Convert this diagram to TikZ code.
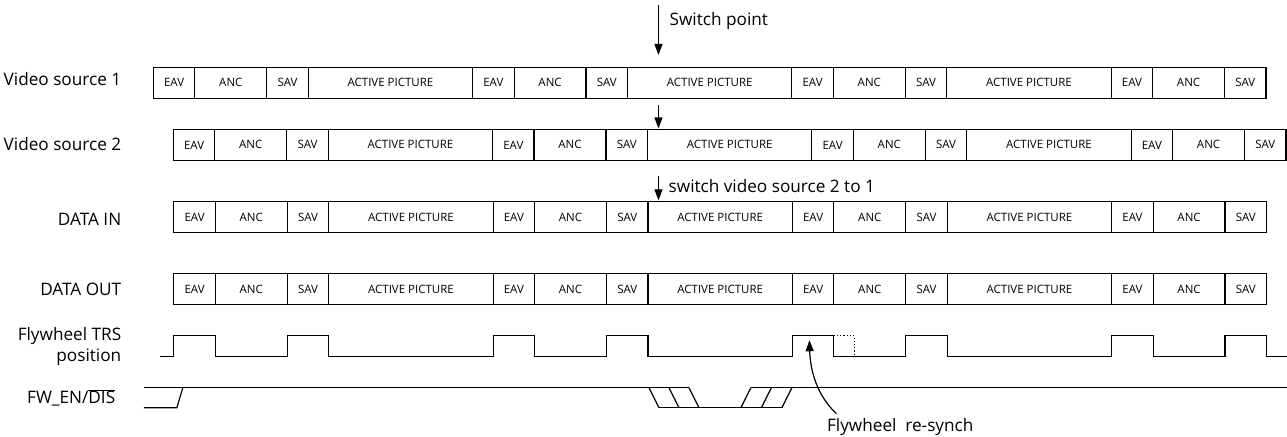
\documentclass[tikz,border=0pt]{standalone}
\usepackage{fontspec}
\setmainfont{Open Sans}
\usetikzlibrary{positioning, arrows.meta}
\tikzstyle{field} = [rectangle, draw=black, line width=1.2pt, minimum height=31pt, inner sep=0pt, outer sep=0pt, text centered, font=\fontsize{11.5}{13}\selectfont]
\tikzstyle{eav} = [field, minimum width=41.5pt]
\tikzstyle{anc} = [field, minimum width=72pt]
\tikzstyle{sav} = [field, minimum width=41.5pt]
\tikzstyle{actpic} = [field, minimum width=164.5pt]
\tikzstyle{actcut} = [field, minimum width=144.5pt]
\tikzstyle{rowname} = [anchor=east, inner sep=0pt, align=right, font=\fontsize{17.2}{20.5}\selectfont]
\tikzstyle{note} = [anchor=west, inner sep=0pt, font=\fontsize{17.2}{20.5}\selectfont]
\tikzstyle{wave} = [line width=1.2pt]
\tikzstyle{arrow} = [line width=1.2pt, -{Triangle[length=11pt, width=8pt]}]

\begin{document}
\begin{tikzpicture}[x=1pt, y=-1pt]
\useasboundingbox (0,0) rectangle (1288,437);

% row names
\node (nsa) [rowname] at (121.5,79) {Video source 1};
\node (nsb) [rowname] at (121.5,144) {Video source 2};
\node (ndin) [rowname] at (121.5,219.5) {DATA IN};
\node (ndout) [rowname] at (121.5,290) {DATA OUT};
\node (ntrs) [rowname] at (121.5,347) {Flywheel TRS\\position};
\node (nfw) [rowname] at (115.5,398) {FW\_EN/$\overline{\mbox{DIS}}$};

% video source 1
\node (sa1) [eav, anchor=west] at (153.5,82.8) {EAV};
\node (sa2) [anc, right=0pt of sa1] {ANC};
\node (sa3) [sav, right=0pt of sa2] {SAV};
\node (sa4) [actpic, right=0pt of sa3] {ACTIVE PICTURE};
\node (sa5) [eav, right=0pt of sa4] {EAV};
\node (sa6) [anc, right=0pt of sa5] {ANC};
\node (sa7) [sav, right=0pt of sa6] {SAV};
\node (sa8) [actpic, right=0pt of sa7] {ACTIVE PICTURE};
\node (sa9) [eav, right=0pt of sa8] {EAV};
\node (sa10) [anc, right=0pt of sa9] {ANC};
\node (sa11) [sav, right=0pt of sa10] {SAV};
\node (sa12) [actpic, right=0pt of sa11] {ACTIVE PICTURE};
\node (sa13) [eav, right=0pt of sa12] {EAV};
\node (sa14) [anc, right=0pt of sa13] {ANC};
\node (sa15) [sav, right=0pt of sa14] {SAV};

% video source 2
\node (sb1) [eav, anchor=west] at (173.5,145) {EAV};
\node (sb2) [anc, right=0pt of sb1] {ANC};
\node (sb3) [sav, right=0pt of sb2] {SAV};
\node (sb4) [actpic, right=0pt of sb3] {ACTIVE PICTURE};
\node (sb5) [eav, right=0pt of sb4] {EAV};
\node (sb6) [anc, right=0pt of sb5] {ANC};
\node (sb7) [sav, right=0pt of sb6] {SAV};
\node (sb8) [actpic, right=0pt of sb7] {ACTIVE PICTURE};
\node (sb9) [eav, right=0pt of sb8] {EAV};
\node (sb10) [anc, right=0pt of sb9] {ANC};
\node (sb11) [sav, right=0pt of sb10] {SAV};
\node (sb12) [actpic, right=0pt of sb11] {ACTIVE PICTURE};
\node (sb13) [eav, right=0pt of sb12] {EAV};
\node (sb14) [anc, right=0pt of sb13] {ANC};
\node (sb15) [sav, right=0pt of sb14] {SAV};

% data in
\node (din1) [eav, anchor=west] at (174,217.2) {EAV};
\node (din2) [anc, right=0pt of din1] {ANC};
\node (din3) [sav, right=0pt of din2] {SAV};
\node (din4) [actpic, right=0pt of din3] {ACTIVE PICTURE};
\node (din5) [eav, right=0pt of din4] {EAV};
\node (din6) [anc, right=0pt of din5] {ANC};
\node (din7) [sav, right=0pt of din6] {SAV};
\node (din8) [actcut, right=0pt of din7] {ACTIVE PICTURE};
\node (din9) [eav, right=0pt of din8] {EAV};
\node (din10) [anc, right=0pt of din9] {ANC};
\node (din11) [sav, right=0pt of din10] {SAV};
\node (din12) [actpic, right=0pt of din11] {ACTIVE PICTURE};
\node (din13) [eav, right=0pt of din12] {EAV};
\node (din14) [anc, right=0pt of din13] {ANC};
\node (din15) [sav, right=0pt of din14] {SAV};

% data out
\node (dout1) [eav, anchor=west] at (174,289.5) {EAV};
\node (dout2) [anc, right=0pt of dout1] {ANC};
\node (dout3) [sav, right=0pt of dout2] {SAV};
\node (dout4) [actpic, right=0pt of dout3] {ACTIVE PICTURE};
\node (dout5) [eav, right=0pt of dout4] {EAV};
\node (dout6) [anc, right=0pt of dout5] {ANC};
\node (dout7) [sav, right=0pt of dout6] {SAV};
\node (dout8) [actcut, right=0pt of dout7] {ACTIVE PICTURE};
\node (dout9) [eav, right=0pt of dout8] {EAV};
\node (dout10) [anc, right=0pt of dout9] {ANC};
\node (dout11) [sav, right=0pt of dout10] {SAV};
\node (dout12) [actpic, right=0pt of dout11] {ACTIVE PICTURE};
\node (dout13) [eav, right=0pt of dout12] {EAV};
\node (dout14) [anc, right=0pt of dout13] {ANC};
\node (dout15) [sav, right=0pt of dout14] {SAV};

% switch markers
\node (swpt) [note] at (670,21) {Switch point};
\node (swsrc) [note] at (669,186) {switch video source 2 to 1};
\coordinate (swa) at (659,5);
\coordinate (swb) at (659,55);
\coordinate (swc) at (659,105);
\coordinate (swd) at (659,128.5);
\coordinate (swe) at (659,176.5);
\coordinate (swf) at (659,200.5);
\draw [arrow] (swa) -- (swb);
\draw [arrow] (swc) -- (swd);
\draw [arrow] (swe) -- (swf);

% flywheel TRS position
\draw [wave] (160,357) -| (174,336) -| (215.5,357) -| (287.5,336) -| (329,357)
  -| (493.5,336) -| (535,357) -| (607,336) -| (648.5,357)
  -| (793,336) -| (834.5,357) -| (906.5,336) -| (948,357)
  -| (1112.5,336) -| (1154,357) -| (1226,336) -| (1267.5,357) -- (1288,357);
\draw [wave, dotted] (834.5,336) -- (855,336) -- (855,357);

% FW_EN/DIS
\draw [wave] (144,408) -- (177,408) -- (183,388);
\draw [wave] (144,388) -- (689.5,388);
\draw [wave] (649.5,388) -- (659.5,408);
\draw [wave] (669.5,388) -- (679.5,408);
\draw [wave] (689.5,388) -- (699.5,408);
\draw [wave] (659.5,408) -- (782.5,408);
\draw [wave] (741.5,408) -- (751.5,388);
\draw [wave] (762,408) -- (772,388);
\draw [wave] (782.5,408) -- (792.5,388);
\draw [wave] (751.5,388) -- (1288,388);

% re-synch
\node (resync) [note, anchor=base west] at (827.5,431.7) {Flywheel\ \ re-synch};
\coordinate (rsa) at (837,414);
\coordinate (rsb) at (810,340.5);
\draw [arrow] (rsa) .. controls (818,396) and (811,372) .. (rsb);

\end{tikzpicture}
\end{document}
